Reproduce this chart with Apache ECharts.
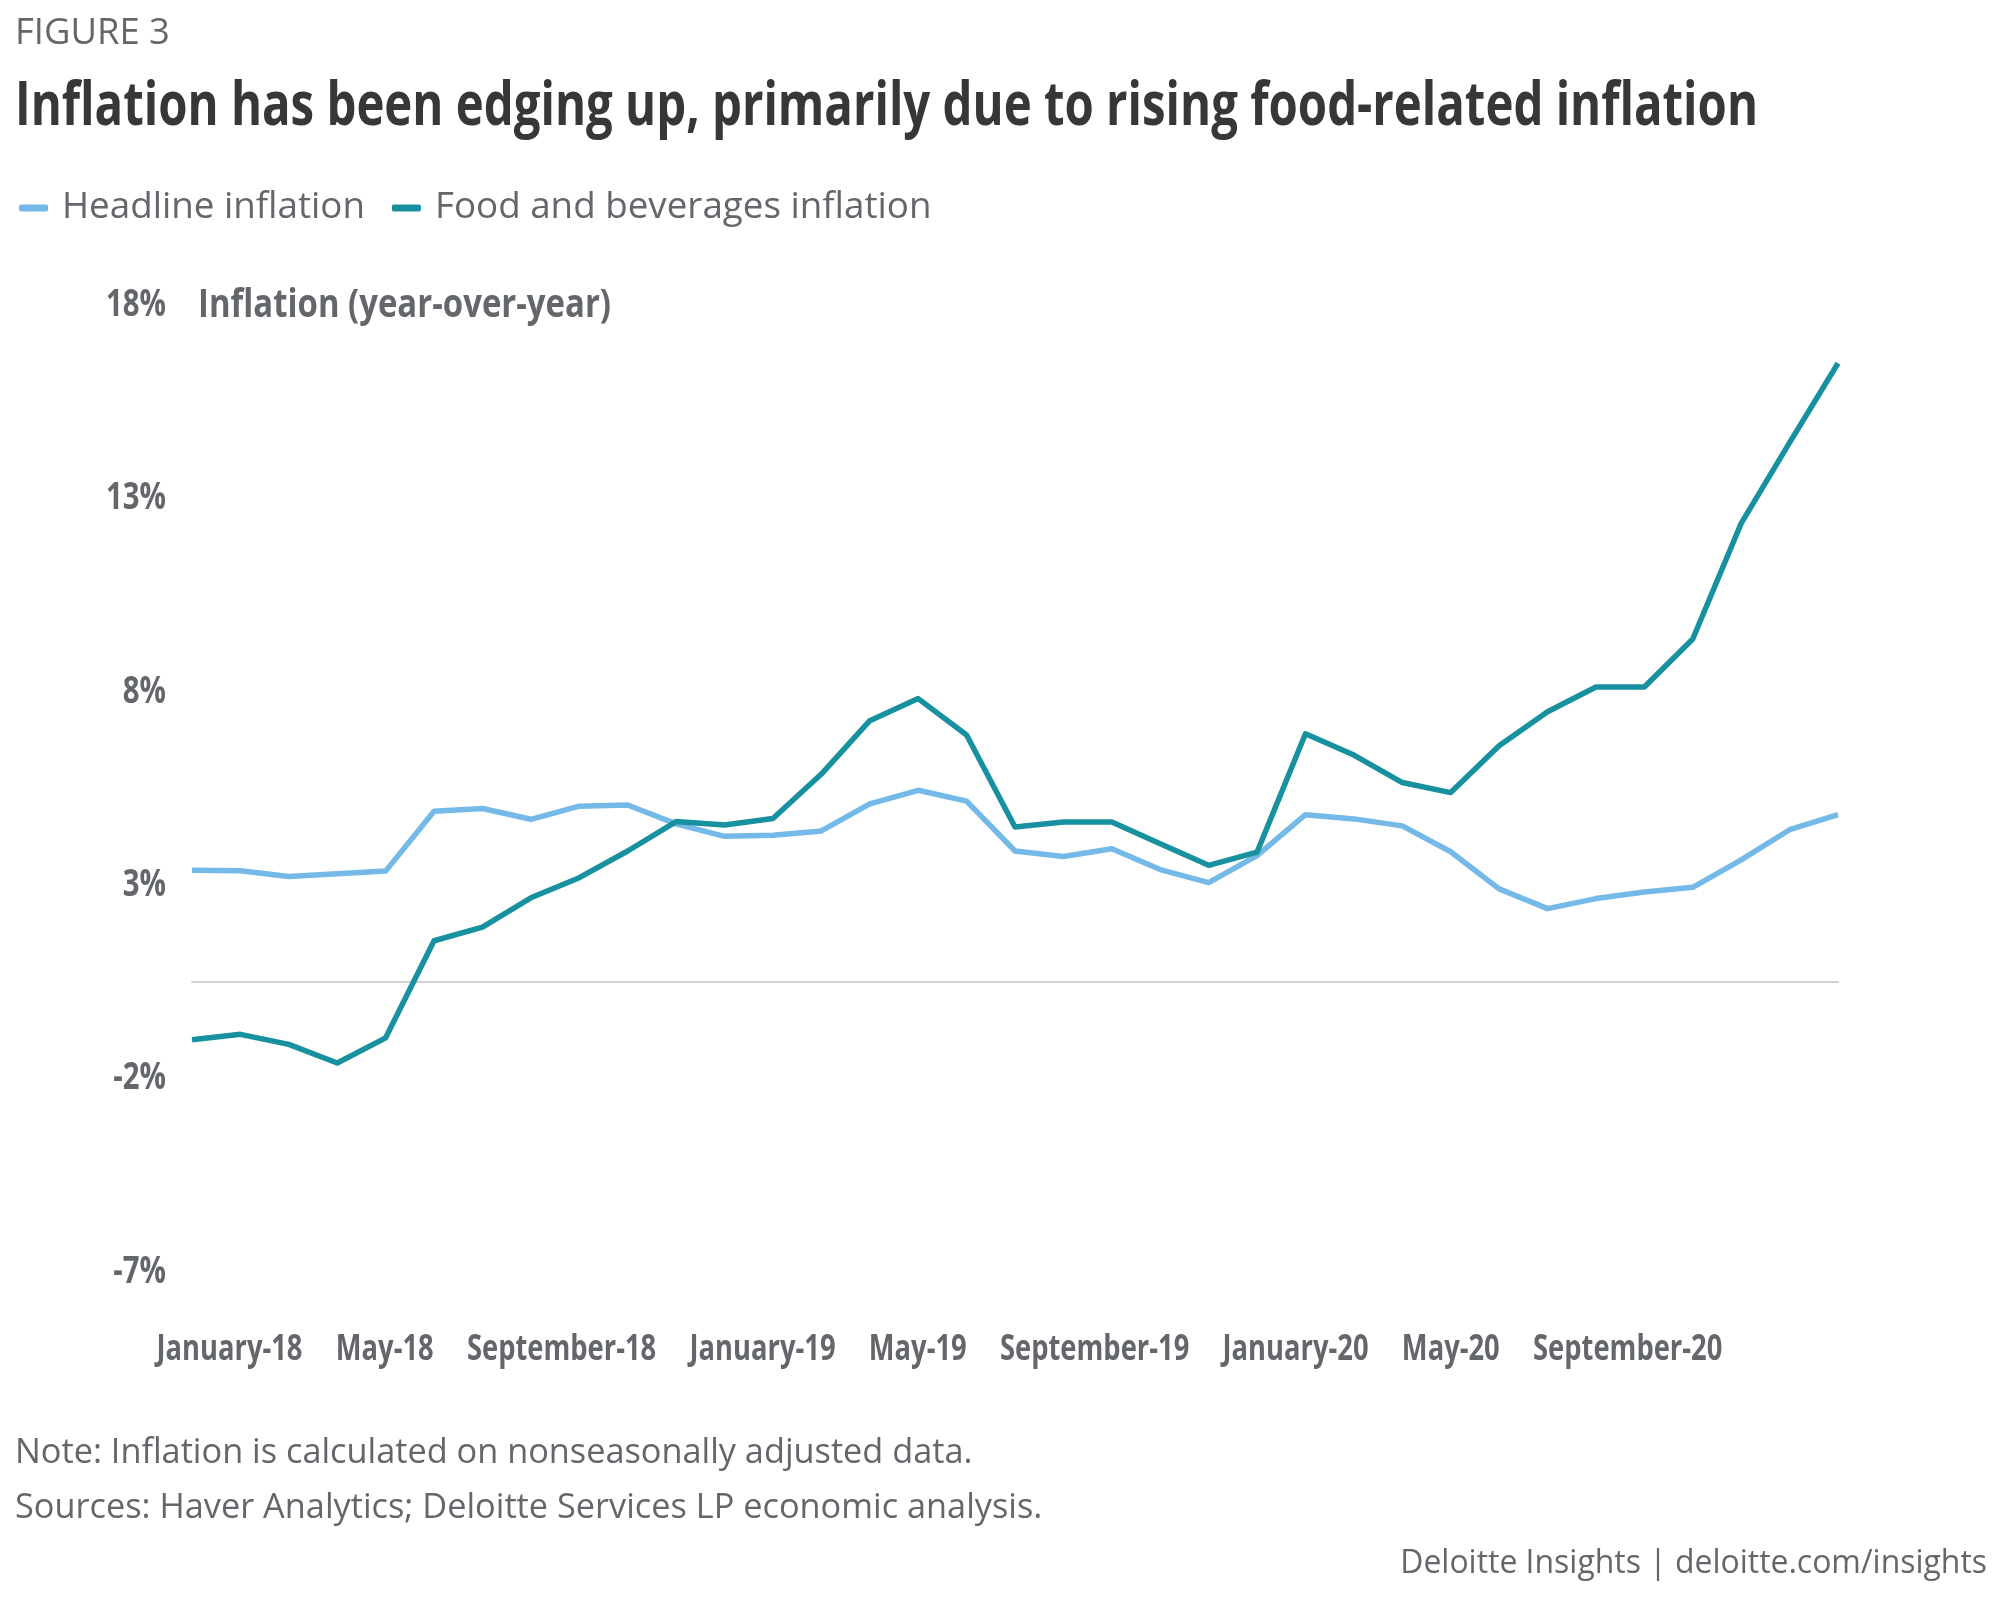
<!DOCTYPE html>
<html><head><meta charset="utf-8">
<script src="https://cdn.jsdelivr.net/npm/echarts@6/dist/echarts.min.js"></script>
<style>html,body{margin:0;padding:0;background:#fff;}#chart{width:2000px;height:1597px;}</style>
</head><body><div id="chart"></div>
<script>
// ---------- data ----------
const categories = ['January-18','February-18','March-18','April-18','May-18','June-18','July-18','August-18','September-18','October-18','November-18','December-18',
  'January-19','February-19','March-19','April-19','May-19','June-19','July-19','August-19','September-19','October-19','November-19','December-19',
  'January-20','February-20','March-20','April-20','May-20','June-20','July-20','August-20','September-20','October-20','November-20'];
const headline = [2.88,2.87,2.72,2.79,2.86,4.41,4.48,4.20,4.54,4.57,4.08,3.76,3.79,3.90,4.60,4.95,4.67,3.38,3.24,3.44,2.90,2.56,3.26,4.32,4.21,4.03,3.36,2.40,1.89,2.15,2.32,2.44,3.15,3.93,4.32];
const food = [-1.50,-1.36,-1.62,-2.10,-1.45,1.06,1.41,2.17,2.69,3.38,4.14,4.05,4.22,5.37,6.75,7.32,6.38,4.00,4.13,4.13,3.57,3.01,3.35,6.41,5.86,5.15,4.89,6.10,6.98,7.62,7.62,8.86,11.85,13.94,15.99];
const xTickLabels = ['January-18','May-18','September-18','January-19','May-19','September-19','January-20','May-20','September-20'];
const yTickValues = [-7,-2,3,8,13,18];
const seriesNames = ['Headline inflation','Food and beverages inflation'];

const FIG = 'FIGURE 3';
const TITLE = 'Inflation has been edging up, primarily due to rising food-related inflation';
const YTITLE = 'Inflation (year-over-year)';
const NOTE = 'Note: Inflation is calculated on nonseasonally adjusted data.';
const SOURCES = 'Sources: Haver Analytics; Deloitte Services LP economic analysis.';
const CREDIT = 'Deloitte Insights | deloitte.com/insights';

// ---------- helpers ----------
const FONT = 'Open Sans';
const ctx = document.createElement('canvas').getContext('2d');
function measure(t, size, weight){ ctx.font = weight + ' ' + size + 'px "' + FONT + '"'; return ctx.measureText(t).width; }
function fsFor(t, w, weight){ return 100 * w / measure(t, 100, weight); }
const GREY = '#63666a';
const DARK = '#37373a';

function txt(str, x, y, size, weight, color, align, sx){
  return {type:'text', x:x, y:y, scaleX:sx||1, scaleY:1, silent:true, z:10,
    style:{text:str, fontSize:size, fontWeight:weight, fontFamily:FONT, fill:color, align:align||'left', verticalAlign:'middle'}};
}

const legendFs = fsFor(seriesNames[0], 303, 400);

const option = {
  animation:false,
  backgroundColor:'#ffffff',
  grid:{left:192, right:162, top:285.5, bottom:344.5, containLabel:false},
  legend:{
    left:14, top:183, icon:'roundRect', itemWidth:29, itemHeight:7, itemGap:27,
    data:seriesNames,
    textStyle:{fontFamily:FONT, fontSize:legendFs, color:GREY, lineHeight:40, padding:[0,0,0,9]}
  },
  xAxis:{type:'category', data:categories, boundaryGap:false,
    axisLine:{onZero:true, lineStyle:{color:'#d3d3d3', width:2}},
    axisTick:{show:false}, axisLabel:{show:false}, splitLine:{show:false}},
  yAxis:{type:'value', min:-7, max:18,
    axisLine:{show:false}, axisTick:{show:false}, axisLabel:{show:false}, splitLine:{show:false}},
  series:[
    {name:seriesNames[0], type:'line', data:headline, showSymbol:false, symbol:'none',
     lineStyle:{width:5.5, color:'#74b9e7', join:'round'}, itemStyle:{color:'#74b9e7'}, z:2},
    {name:seriesNames[1], type:'line', data:food, showSymbol:false, symbol:'none',
     lineStyle:{width:5.5, color:'#17919f', join:'round'}, itemStyle:{color:'#17919f'}, z:3}
  ]
};

const chart = echarts.init(document.getElementById('chart'), null, {renderer:'canvas', width:2000, height:1597});
chart.setOption(option);

const g = [];
// header
g.push(txt(FIG, 15, 34, fsFor(FIG, 155, 400), 400, GREY, 'left'));
const titleFs = 61;
g.push(txt(TITLE, 15, 108, titleFs, 700, DARK, 'left', 1743 / measure(TITLE, titleFs, 700)));
// y axis title
const ytFs = 39;
g.push(txt(YTITLE, 198, 306, ytFs, 700, GREY, 'left', 413 / measure(YTITLE, ytFs, 700)));
// y tick labels through the axis scale
const yFs = 38;
const ySx = 60 / measure('18%', yFs, 700);
yTickValues.forEach(v => {
  const py = chart.convertToPixel({yAxisIndex:0}, v);
  g.push(txt(v + '%', 166, py + 19.5, yFs, 700, GREY, 'right', ySx));
});
// x tick labels (flow layout)
const xFs = 36;
const xSx = 146 / measure('January-18', xFs, 700);
let cx = 156.5;
xTickLabels.forEach(l => {
  g.push(txt(l, cx, 1349.5, xFs, 700, GREY, 'left', xSx));
  cx += measure(l, xFs, 700) * xSx + 33.3;
});
// footer
g.push(txt(NOTE, 15, 1453, fsFor(NOTE, 958, 400), 400, GREY, 'left'));
g.push(txt(SOURCES, 15, 1508, fsFor(SOURCES, 1028, 400), 400, GREY, 'left'));
g.push(txt(CREDIT, 1987, 1564, fsFor(CREDIT, 587, 400), 400, GREY, 'right'));

chart.setOption({graphic:g});
</script>
</body></html>
